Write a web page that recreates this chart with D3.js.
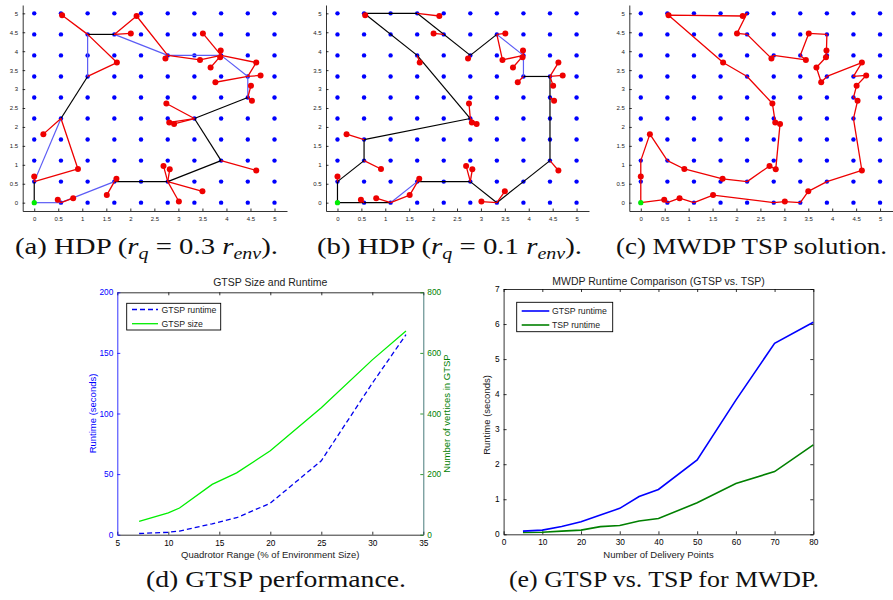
<!DOCTYPE html>
<html>
<head>
<meta charset="utf-8">
<script src="https://cdn.jsdelivr.net/npm/d3@7"></script>
<style>
  body { margin: 0; background: #fff; }
  svg { display: block; }
</style>
</head>
<body>
<div id="fig"></div>
<script>
/*global d3 */

// ---- map panels (a)-(c) ----
// grid node positions (same on both axes), 10 x 10 road network
var gridVals = [0, 0.556, 1.111, 1.667, 2.222, 2.778, 3.333, 3.889, 4.444, 5];
var mapTicks = [0, 0.5, 1, 1.5, 2, 2.5, 3, 3.5, 4, 4.5, 5];

// delivery points [x, y]
var deliveryPts = [
  [0, 0.69], [0.19, 1.81], [0.91, 0.89], [0.49, 0.08], [0.81, 0.12],
  [1.51, 0.20], [1.71, 0.63], [0.58, 4.95], [1.72, 3.70], [2.01, 4.47],
  [2.13, 4.93], [2.73, 3.81], [2.75, 2.62], [2.81, 2.12], [2.91, 2.08],
  [2.69, 0.97], [2.82, 0.88], [3.01, 0.03], [3.50, 0.30], [3.45, 3.77],
  [3.51, 4.47], [3.88, 4.02], [3.87, 3.84], [3.67, 3.57], [3.77, 3.18],
  [4.62, 3.70], [4.71, 3.36], [4.51, 3.09], [4.53, 2.69], [4.62, 0.85]
];
var startPt = [0, 0];

// route nodes: [col,row] = grid node, number = delivery point index
// (a) HDP r_q = 0.3 r_env
var truckA = [[0,0],[0,1],[1,4],[2,6],[2,8],[3,8],[5,7],[7,7],[8,6],[8,5],[6,4],[7,2],[5,1],[3,1],[1,0],[0,0]];
var truckAKind = ["k","b","k","b","k","b","b","b","b","k","k","k","k","b","b"];
var sortiesA = [
  [[0,1], 0], [[0,1], 2, [1,4], 1], [[1,0], 3], [[1,0], 4], [[3,1], 5], [[3,1], 6],
  [7, [2,8], 8, [2,6]], [[3,8], 9], [[3,8], 10, [5,7], 11], [[5,7], 19, [7,7]],
  [[7,7], 20], [[7,7], 21], [[7,7], 22], [[7,7], 23], [[7,7], 25, [8,6]],
  [[8,6], 26], [[8,6], 24], [[8,5], 27], [[8,5], 28],
  [[6,4], 12], [[6,4], 13], [[6,4], 14], [[7,2], 29],
  [[5,1], 15], [[5,1], 16], [[5,1], 17], [[5,1], 18]
];

// (b) HDP r_q = 0.1 r_env
var truckB = [[0,0],[0,1],[1,2],[1,3],[5,4],[3,7],[1,9],[3,9],[5,7],[6,8],[7,7],[7,6],[8,6],[8,2],[7,1],[6,0],[5,1],[3,1],[2,0],[0,0]];
var truckBKind = ["k","k","k","k","k","k","k","k","k","b","b","k","k","k","k","k","k","b","k"];
var sortiesB = [
  [[0,1], 0], [[1,2], 2], [[1,3], 1], [[1,0], 3], [[2,0], 4], [[2,0], 5, 6, [3,1]],
  [[1,9], 7], [[3,9], 10], [[4,8], 9], [[3,7], 8], [[5,7], 11],
  [[6,8], 20], [[6,8], 19, [7,7]], [[7,7], 21], [[7,7], 22], [[7,7], 23], [[7,6], 24],
  [[8,6], 25], [[8,6], 26], [[8,6], 27], [[8,5], 28],
  [[5,4], 12], [[5,4], 13], [[5,4], 14], [[8,2], 29],
  [[5,1], 15], [[5,1], 16], [[6,0], 17], [[6,0], 18]
];

// (c) MWDP TSP solution
var routeC = [[0,0], 0, [0,2], 1, [1,2], 2, 6, [4,1], 15, 16, 14, 13, 12, [4,6], 8, 7, 10, [4,9], 9, [4,8],
  11, [5,7], 19, [6,7], 20, [7,8], 21, 22, 23, 24, [7,6], 25, [8,6], 26, 27, [8,5], 28, [8,4], 29,
  [7,1], 18, [6,0], 17, [5,0], 5, [2,0], 4, [1,0], 3, [0,0]];

// ---- (d) GTSP size and runtime ----
var quadRange = [7.14, 10, 11.1, 14.3, 16.7, 20, 25, 30, 33.3];
var gtspRuntimeD = [1, 2, 3, 9, 14, 26, 61, 125, 165];
var gtspSize = [44, 72, 88, 166, 204, 277, 419, 577, 672];
var dXTicks = [5, 10, 15, 20, 25, 30, 35];
var dLeftTicks = [0, 50, 100, 150, 200];
var dRightTicks = [0, 200, 400, 600, 800];

// ---- (e) GTSP vs TSP ----
var deliveryCounts = [5, 10, 15, 20, 25, 30, 35, 40, 50, 60, 70, 80];
var gtspRuntimeE = [0.09, 0.12, 0.22, 0.36, 0.55, 0.74, 1.08, 1.28, 2.12, 3.83, 5.45, 6.05];
var tspRuntimeE = [0.05, 0.06, 0.09, 0.12, 0.22, 0.25, 0.38, 0.45, 0.90, 1.45, 1.79, 2.55];
var eXTicks = [0, 10, 20, 30, 40, 50, 60, 70, 80];
var eYTicks = [0, 1, 2, 3, 4, 5, 6, 7];

var svg = d3.select("#fig").append("svg")
  .attr("width", 893).attr("height", 600)
  .style("font-family", "'Liberation Sans', Arial, sans-serif");

var fmtInt = d3.format("d");

function pt(n) {
  return Array.isArray(n) ? [gridVals[n[0]], gridVals[n[1]]] : deliveryPts[n];
}

function styleAxis(sel, size, color) {
  sel.attr("font-family", null).attr("font-size", null);
  sel.selectAll("path, line").attr("stroke", color || "#000").attr("stroke-width", 0.8);
  sel.selectAll("text").attr("font-size", size).attr("fill", color || "#222");
}

function drawMap(p) {
  var x = d3.scaleLinear().domain([-0.24, 5.26]).range([p.left, p.right]);
  var y = d3.scaleLinear().domain([-0.22, 5.22]).range([211, 5]);
  var g = svg.append("g");
  var line = d3.line().x(function(d) { return x(d[0]); }).y(function(d) { return y(d[1]); });

  g.append("g").attr("transform", "translate(0,211)")
    .call(d3.axisBottom(x).tickValues(mapTicks).tickSize(-2.5).tickSizeOuter(0).tickPadding(6).tickFormat(d3.format("~g")))
    .call(styleAxis, 6);
  g.append("g").attr("transform", "translate(" + p.left + ",0)")
    .call(d3.axisLeft(y).tickValues(mapTicks).tickSize(-2.5).tickSizeOuter(0).tickPadding(4.5).tickFormat(d3.format("~g")))
    .call(styleAxis, 6);

  // grid nodes
  g.selectAll("circle.grid")
    .data(d3.cross(gridVals, gridVals))
    .enter().append("circle")
      .attr("class", "grid")
      .attr("cx", function(d) { return x(d[0]); })
      .attr("cy", function(d) { return y(d[1]); })
      .attr("r", 2.2)
      .attr("fill", "#0000ff");

  if (p.truck) {
    var edges = d3.pairs(p.truck.map(pt));
    g.selectAll("line.truck")
      .data(edges)
      .enter().append("line")
        .attr("x1", function(d) { return x(d[0][0]); })
        .attr("y1", function(d) { return y(d[0][1]); })
        .attr("x2", function(d) { return x(d[1][0]); })
        .attr("y2", function(d) { return y(d[1][1]); })
        .attr("stroke", function(d, i) { return p.kinds[i] === "b" ? "#5c5cf5" : "#000"; })
        .attr("stroke-width", 1.2);
    g.selectAll("path.sortie")
      .data(p.sorties)
      .enter().append("path")
        .attr("d", function(d) { return line(d.map(pt)); })
        .attr("fill", "none")
        .attr("stroke", "#ee0000")
        .attr("stroke-width", 1.3)
        .attr("stroke-linejoin", "round");
  }
  if (p.route) {
    g.append("path")
      .attr("d", line(p.route.map(pt)))
      .attr("fill", "none")
      .attr("stroke", "#ee0000")
      .attr("stroke-width", 1.3)
      .attr("stroke-linejoin", "round");
  }

  g.selectAll("circle.deliv")
    .data(deliveryPts)
    .enter().append("circle")
      .attr("cx", function(d) { return x(d[0]); })
      .attr("cy", function(d) { return y(d[1]); })
      .attr("r", 3)
      .attr("fill", "#ee0000");

  g.append("circle")
    .attr("cx", x(startPt[0])).attr("cy", y(startPt[1]))
    .attr("r", 2.6).attr("fill", "#00ee00");
}

drawMap({left: 22.7, right: 287, truck: truckA, kinds: truckAKind, sorties: sortiesA});
drawMap({left: 326, right: 589, truck: truckB, kinds: truckBKind, sorties: sortiesB});
drawMap({left: 629.3, right: 892.5, route: routeC});

// ---- panel (d) ----
(function() {
  var x = d3.scaleLinear().domain([5, 35]).range([117.3, 423.3]);
  var yL = d3.scaleLinear().domain([0, 200]).range([534.7, 292.3]);
  var yR = d3.scaleLinear().domain([0, 800]).range([534.7, 292.3]);
  var g = svg.append("g");

  g.append("g").attr("transform", "translate(0,534.7)")
    .call(d3.axisBottom(x).tickValues(dXTicks).tickSize(-3).tickSizeOuter(0).tickPadding(5).tickFormat(fmtInt))
    .call(styleAxis, 8.3, "#000");
  g.append("g").attr("transform", "translate(0,292.3)")
    .call(d3.axisTop(x).tickValues(dXTicks).tickSize(-3).tickSizeOuter(0).tickFormat(""))
    .call(styleAxis, 8.3, "#000");
  g.append("g").attr("transform", "translate(117.3,0)")
    .call(d3.axisLeft(yL).tickValues(dLeftTicks).tickSize(-3).tickSizeOuter(0).tickPadding(4).tickFormat(fmtInt))
    .call(styleAxis, 8.3, "#0000ff");
  g.append("g").attr("transform", "translate(423.3,0)")
    .call(d3.axisRight(yR).tickValues(dRightTicks).tickSize(-3).tickSizeOuter(0).tickPadding(4).tickFormat(fmtInt))
    .call(styleAxis, 8.3, "#008000")
    .select("path").attr("stroke", "#1a5a5a");

  g.append("path")
    .datum(quadRange)
    .attr("d", d3.line().x(function(d) { return x(d); }).y(function(d, i) { return yR(gtspSize[i]); }))
    .attr("fill", "none").attr("stroke", "#00ee00").attr("stroke-width", 1.3);
  g.append("path")
    .datum(quadRange)
    .attr("d", d3.line().x(function(d) { return x(d); }).y(function(d, i) { return yL(gtspRuntimeD[i]); }))
    .attr("fill", "none").attr("stroke", "#0000ee").attr("stroke-width", 1.3)
    .attr("stroke-dasharray", "5,3");

  g.append("text").attr("x", 270.3).attr("y", 286).attr("text-anchor", "middle")
    .attr("font-size", 10.5).attr("fill", "#222").text("GTSP Size and Runtime");
  g.append("text").attr("x", 270.3).attr("y", 557.5).attr("text-anchor", "middle")
    .attr("font-size", 9.5).attr("fill", "#222").text("Quadrotor Range (% of Environment Size)");
  g.append("text").attr("transform", "translate(96,413.5)rotate(-90)").attr("text-anchor", "middle")
    .attr("font-size", 9.5).attr("fill", "#0000ff").text("Runtime (seconds)");
  g.append("text").attr("transform", "translate(450,413.5)rotate(-90)").attr("text-anchor", "middle")
    .attr("font-size", 9.5).attr("fill", "#008000").text("Number of vertices in GTSP");

  // legend
  var lg = g.append("g");
  lg.append("rect").attr("x", 126.7).attr("y", 303.3).attr("width", 94).attr("height", 26.7)
    .attr("fill", "#fff").attr("stroke", "#000").attr("stroke-width", 0.9);
  lg.append("line").attr("x1", 132).attr("x2", 158).attr("y1", 309.5).attr("y2", 309.5)
    .attr("stroke", "#0000ee").attr("stroke-width", 1.3).attr("stroke-dasharray", "5,3");
  lg.append("line").attr("x1", 132).attr("x2", 158).attr("y1", 323.7).attr("y2", 323.7)
    .attr("stroke", "#00ee00").attr("stroke-width", 1.3);
  lg.append("text").attr("x", 161.5).attr("y", 312.5).attr("font-size", 8.7).attr("fill", "#222").text("GTSP runtime");
  lg.append("text").attr("x", 161.5).attr("y", 326.7).attr("font-size", 8.7).attr("fill", "#222").text("GTSP size");
})();

// ---- panel (e) ----
(function() {
  var x = d3.scaleLinear().domain([0, 80]).range([503.6, 813.3]);
  var y = d3.scaleLinear().domain([0, 7]).range([534.3, 289]);
  var g = svg.append("g");

  g.append("g").attr("transform", "translate(0,534.3)")
    .call(d3.axisBottom(x).tickValues(eXTicks).tickSize(-3).tickSizeOuter(0).tickPadding(5).tickFormat(fmtInt))
    .call(styleAxis, 8.3, "#000");
  g.append("g").attr("transform", "translate(0,289)")
    .call(d3.axisTop(x).tickValues(eXTicks).tickSize(-3).tickSizeOuter(0).tickFormat(""))
    .call(styleAxis, 8.3, "#000");
  g.append("g").attr("transform", "translate(503.6,0)")
    .call(d3.axisLeft(y).tickValues(eYTicks).tickSize(-3).tickSizeOuter(0).tickPadding(4).tickFormat(fmtInt))
    .call(styleAxis, 8.3, "#000");
  g.append("g").attr("transform", "translate(813.3,0)")
    .call(d3.axisRight(y).tickValues(eYTicks).tickSize(-3).tickSizeOuter(0).tickFormat(""))
    .call(styleAxis, 8.3, "#000");

  g.append("path")
    .datum(deliveryCounts)
    .attr("d", d3.line().x(function(d) { return x(d); }).y(function(d, i) { return y(tspRuntimeE[i]); }))
    .attr("fill", "none").attr("stroke", "#008000").attr("stroke-width", 1.6);
  g.append("path")
    .datum(deliveryCounts)
    .attr("d", d3.line().x(function(d) { return x(d); }).y(function(d, i) { return y(gtspRuntimeE[i]); }))
    .attr("fill", "none").attr("stroke", "#0000ff").attr("stroke-width", 1.6);

  g.append("text").attr("x", 658.5).attr("y", 284.5).attr("text-anchor", "middle")
    .attr("font-size", 10.5).attr("fill", "#222").text("MWDP Runtime Comparison (GTSP vs. TSP)");
  g.append("text").attr("x", 658.5).attr("y", 557.5).attr("text-anchor", "middle")
    .attr("font-size", 9.5).attr("fill", "#222").text("Number of Delivery Points");
  g.append("text").attr("transform", "translate(489.5,415)rotate(-90)").attr("text-anchor", "middle")
    .attr("font-size", 9.5).attr("fill", "#222").text("Runtime (seconds)");

  var lg = g.append("g");
  lg.append("rect").attr("x", 516.7).attr("y", 302.3).attr("width", 96).attr("height", 29.4)
    .attr("fill", "#fff").attr("stroke", "#000").attr("stroke-width", 0.9);
  lg.append("line").attr("x1", 521.7).attr("x2", 549.3).attr("y1", 311).attr("y2", 311)
    .attr("stroke", "#0000ff").attr("stroke-width", 1.6);
  lg.append("line").attr("x1", 521.7).attr("x2", 549.3).attr("y1", 325).attr("y2", 325)
    .attr("stroke", "#008000").attr("stroke-width", 1.6);
  lg.append("text").attr("x", 552).attr("y", 314).attr("font-size", 8.7).attr("fill", "#222").text("GTSP runtime");
  lg.append("text").attr("x", 552).attr("y", 328).attr("font-size", 8.7).attr("fill", "#222").text("TSP runtime");
})();

// ---- sub-figure captions ----
function caption(cx, y, width, parts) {
  var t = svg.append("text")
    .attr("x", cx).attr("y", y)
    .attr("text-anchor", "middle")
    .attr("font-family", "'Liberation Serif', 'DejaVu Serif', serif")
    .attr("font-size", 23)
    .attr("fill", "#111")
    .attr("textLength", width)
    .attr("lengthAdjust", "spacingAndGlyphs");
  var shifted = false;
  parts.forEach(function(p) {
    var s = t.append("tspan").text(p[0]);
    if (p[1] === "i" || p[1] === "s") s.attr("font-style", "italic");
    if (p[1] === "s" && !shifted) { s.attr("dy", 5).attr("font-size", 16); shifted = true; }
    else if (p[1] === "s") { s.attr("font-size", 16); }
    else if (shifted) { s.attr("dy", -5); shifted = false; }
  });
}

caption(146.5, 254.3, 263, [["(a) HDP (", "n"], ["r", "i"], ["q", "s"], [" = 0.3 ", "n"], ["r", "i"], ["env", "s"], [").", "n"]]);
caption(449.5, 254.3, 265, [["(b) HDP (", "n"], ["r", "i"], ["q", "s"], [" = 0.1 ", "n"], ["r", "i"], ["env", "s"], [").", "n"]]);
caption(751.5, 254.3, 271, [["(c) MWDP TSP solution.", "n"]]);
caption(276, 587, 260, [["(d) GTSP performance.", "n"]]);
caption(664, 587, 310, [["(e) GTSP vs. TSP for MWDP.", "n"]]);
</script>
</body>
</html>
